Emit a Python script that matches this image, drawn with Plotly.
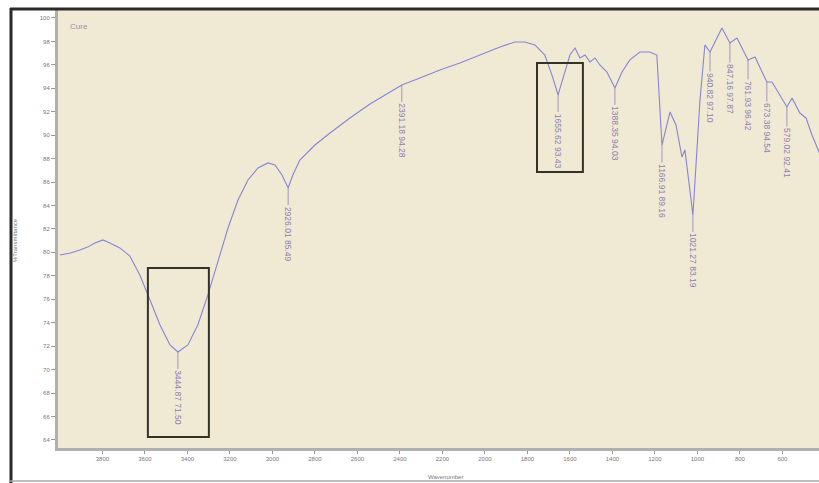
import plotly.graph_objects as go

# FTIR spectrum (wavenumber in cm-1, %T)
wavenumber = [4000, 3950, 3906, 3870, 3835, 3798, 3765, 3718, 3671, 3624, 3576, 3529,
              3482, 3444.87, 3398, 3351, 3304, 3256, 3209, 3162, 3115, 3068, 3021, 2988,
              2955, 2926.01, 2904, 2871, 2800, 2729, 2635, 2541, 2447, 2391.18, 2306,
              2212, 2118, 2024, 1929, 1859, 1812, 1765, 1718, 1685, 1655.62, 1628, 1600,
              1576, 1553, 1529, 1506, 1482, 1459, 1426, 1388.35, 1355, 1318, 1271, 1224,
              1191, 1166.91, 1129, 1101, 1073, 1059, 1021.27, 988, 965, 940.82, 913, 885,
              847.16, 814, 761.93, 729, 673.38, 649, 579.02, 555, 518, 489, 461, 428, 400]
transmittance = [79.78, 79.95, 80.20, 80.45, 80.80, 81.06, 80.80, 80.38, 79.69, 78.07,
                 75.94, 73.81, 72.10, 71.50, 72.10, 73.81, 76.36, 79.18, 82.08, 84.47,
                 86.18, 87.20, 87.63, 87.46, 86.60, 85.49, 86.60, 87.88, 89.16, 90.19,
                 91.47, 92.66, 93.69, 94.28, 94.88, 95.56, 96.16, 96.84, 97.53, 97.95,
                 97.95, 97.70, 96.84, 95.14, 93.43, 95.14, 96.84, 97.44, 96.59, 96.84,
                 96.25, 96.59, 95.99, 95.39, 94.03, 95.39, 96.42, 97.10, 97.10, 96.84,
                 89.16, 91.98, 90.87, 88.14, 88.74, 83.19, 93.00, 97.70, 97.10, 98.12,
                 99.15, 97.87, 98.29, 96.42, 96.67, 94.54, 94.54, 92.41, 93.17, 91.89,
                 91.47, 90.02, 88.57, 87.60]

# Picked peaks (wavenumbers present in the spectrum above)
peak_wavenumbers = [3444.87, 2926.01, 2391.18, 1655.62, 1388.35, 1166.91, 1021.27,
                    940.82, 847.16, 761.93, 673.38, 579.02]

# Highlighted regions: (wn_start, wn_end, T_low, T_high)
highlight_boxes = [(3586, 3299, 64.25, 78.67), (1755, 1539, 86.86, 96.16)]

x_ticks = list(range(3800, 599, -200))
y_ticks = list(range(64, 101, 2))

curve_color = "#8485d8"
label_color = "#8e80b2"
font_family = "Liberation Sans, Arial, sans-serif"

fig = go.Figure()
fig.add_trace(go.Scatter(x=wavenumber, y=transmittance, mode="lines",
                         line=dict(color=curve_color, width=1.1),
                         hoverinfo="x+y", showlegend=False))

for wn in peak_wavenumbers:
    t = transmittance[wavenumber.index(wn)]
    fig.add_annotation(x=wn, y=t, xref="x", yref="y",
                       text=f"{wn:.2f} {t:.2f}", textangle=90,
                       font=dict(size=8.5, color=label_color, family=font_family),
                       showarrow=True, arrowhead=0, arrowwidth=0.8,
                       arrowcolor=label_color, ax=0, ay=46, standoff=0)

for x0, x1, y0, y1 in highlight_boxes:
    fig.add_shape(type="rect", xref="x", yref="y", x0=x0, x1=x1, y0=y0, y1=y1,
                  line=dict(color="#34332a", width=2), fillcolor="rgba(0,0,0,0)")

# Sample name inside the plot
fig.add_annotation(x=0.013, y=0.962, xref="paper", yref="paper", text="Cure",
                   showarrow=False, xanchor="left", yanchor="middle",
                   font=dict(size=8, color="#9a8cb4", family=font_family))

# Axis titles
fig.add_annotation(x=(445 - 58) / 761, y=(448 - 477) / 438, xref="paper", yref="paper",
                   text="Wavenumber", showarrow=False, xanchor="center", yanchor="middle",
                   font=dict(size=6, color="#777", family=font_family))
fig.add_annotation(x=(15 - 58) / 761, y=(448 - 240) / 438, xref="paper", yref="paper",
                   text="%Transmittance", showarrow=False, textangle=-90,
                   xanchor="center", yanchor="middle",
                   font=dict(size=6, color="#777", family=font_family))

# Outer window frame
fig.add_shape(type="line", xref="paper", yref="paper",
              x0=(11 - 58) / 761, x1=(11 - 58) / 761, y0=(448 - 483) / 438, y1=(448 - 8) / 438,
              line=dict(color="#2a2a2a", width=3))
fig.add_shape(type="line", xref="paper", yref="paper",
              x0=(10 - 58) / 761, x1=1.02, y0=(448 - 9) / 438, y1=(448 - 9) / 438,
              line=dict(color="#2a2a2a", width=3))
fig.add_shape(type="line", xref="paper", yref="paper",
              x0=(10 - 58) / 761, x1=1.02, y0=(448 - 481) / 438, y1=(448 - 481) / 438,
              line=dict(color="#aaaaaa", width=1.5))

fig.update_layout(
    width=819, height=483,
    margin=dict(l=58, r=0, t=10, b=35),
    paper_bgcolor="white",
    plot_bgcolor="#f0ead4",
    font=dict(family=font_family, size=7, color="#666"),
    xaxis=dict(range=[4009, 428], tickvals=x_ticks, ticktext=[str(v) for v in x_ticks],
               showgrid=False, zeroline=False, showline=True, linecolor="#b0b0b0",
               linewidth=3, ticks="outside", ticklen=3, tickcolor="#999",
               tickfont=dict(size=6, color="#777")),
    yaxis=dict(range=[63.31, 100.68], tickvals=y_ticks, ticktext=[str(v) for v in y_ticks],
               showgrid=False, zeroline=False, showline=True, linecolor="#b0b0b0",
               linewidth=3, ticks="outside", ticklen=4, tickcolor="#999",
               tickfont=dict(size=6, color="#777")),
)

fig.write_html("out.html")
